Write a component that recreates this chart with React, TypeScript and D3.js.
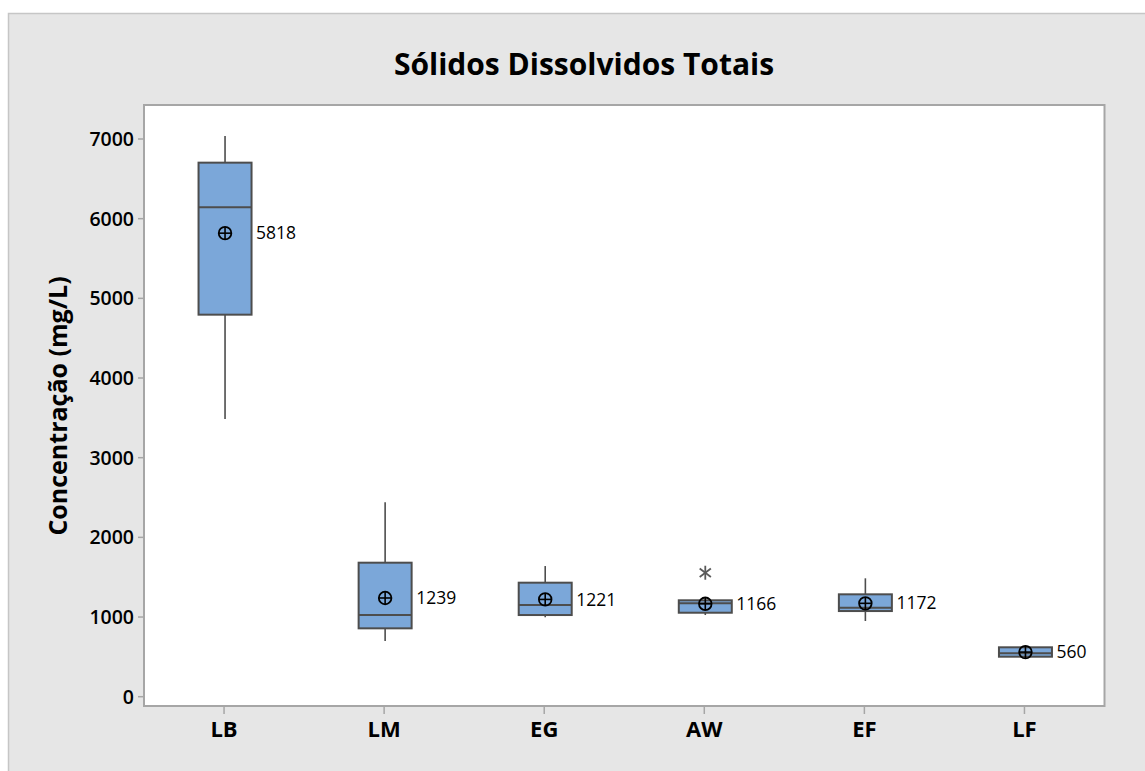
import React from "react";
import * as d3 from "d3";

const categories = ["LB", "LM", "EG", "AW", "EF", "LF"];
const whiskerLow = [3486, 699, 997, 1025, 950, 502];
const q1 = [4795, 858, 1025, 1054, 1075, 502];
const medians = [6143, 1025, 1151, 1172, 1117, 545];
const q3 = [6703, 1682, 1431, 1210, 1285, 620];
const whiskerHigh = [7038, 2440, 1640, 1210, 1486, 620];
const means = [5818, 1239, 1221, 1166, 1172, 560];
const outlierCats = ["AW"];
const outlierValues = [1556];
const yTicks = [0, 1000, 2000, 3000, 4000, 5000, 6000, 7000];
const title = "Sólidos Dissolvidos Totais";
const yTitle = "Concentração (mg/L)";

const W = 1145;
const H = 771;
const frame = { left: 144, top: 105, right: 1104.5, bottom: 706 };
const FONT = "'Open Sans', 'Noto Sans', sans-serif";

export default function App() {
  const x = d3
    .scaleBand<string>()
    .domain(categories)
    .range([frame.left, frame.right])
    .padding(0);
  const y = d3.scaleLinear().domain([0, 7000]).range([696.7, 139]);
  const bw = 53;
  const cx = (c: string) => (x(c) as number) + x.bandwidth() / 2 + 1;
  const stroke = "#4d4d4d";

  return (
    <svg
      width={W}
      height={H}
      style={{ position: "absolute", left: 0, top: 0 }}
      fontFamily={FONT}
    >
      <rect x={0} y={0} width={W} height={H} fill="#ffffff" />
      <rect
        x={8.5}
        y={13.5}
        width={W + 20}
        height={H + 20}
        fill="#e6e6e6"
        stroke="#c6c6c6"
        strokeWidth={1.5}
      />
      <text
        x={584}
        y={75}
        textAnchor="middle"
        fontSize={30}
        fontWeight={700}
        fill="#000"
      >
        {title}
      </text>
      <rect
        x={frame.left}
        y={frame.top}
        width={frame.right - frame.left}
        height={frame.bottom - frame.top}
        fill="#ffffff"
        stroke="#a6a6a6"
        strokeWidth={2}
      />
      {/* y axis ticks */}
      {yTicks.map((t) => (
        <g key={t}>
          <line
            x1={frame.left - 6}
            x2={frame.left}
            y1={y(t)}
            y2={y(t)}
            stroke="#a6a6a6"
            strokeWidth={1.5}
          />
          <text
            x={frame.left - 10}
            y={y(t)}
            dy="0.36em"
            textAnchor="end"
            fontSize={19.5}
            fontWeight={600}
            fill="#000"
          >
            {t}
          </text>
        </g>
      ))}
      <text
        transform={`translate(${67},${406}) rotate(-90)`}
        textAnchor="middle"
        fontSize={25}
        fontWeight={700}
        fill="#000"
      >
        {yTitle}
      </text>
      {/* x axis ticks */}
      {categories.map((c) => (
        <g key={c}>
          <line
            x1={cx(c) - 1}
            x2={cx(c) - 1}
            y1={frame.bottom}
            y2={frame.bottom + 8}
            stroke="#a6a6a6"
            strokeWidth={1.5}
          />
          <text
            x={cx(c) - 1}
            y={737}
            textAnchor="middle"
            fontSize={22}
            fontWeight={700}
            fill="#000"
          >
            {c}
          </text>
        </g>
      ))}
      {/* boxes */}
      {categories.map((c, i) => {
        const xc = cx(c);
        return (
          <g key={c}>
            <line
              x1={xc}
              x2={xc}
              y1={y(whiskerHigh[i])}
              y2={y(q3[i])}
              stroke={stroke}
              strokeWidth={1.6}
            />
            <line
              x1={xc}
              x2={xc}
              y1={y(q1[i])}
              y2={y(whiskerLow[i])}
              stroke={stroke}
              strokeWidth={1.6}
            />
            <rect
              x={xc - bw / 2}
              y={y(q3[i])}
              width={bw}
              height={y(q1[i]) - y(q3[i])}
              fill="#7ba7d9"
              stroke={stroke}
              strokeWidth={2}
            />
            <line
              x1={xc - bw / 2}
              x2={xc + bw / 2}
              y1={y(medians[i])}
              y2={y(medians[i])}
              stroke={stroke}
              strokeWidth={2}
            />
            <circle
              cx={xc}
              cy={y(means[i])}
              r={6.3}
              fill="none"
              stroke="#000"
              strokeWidth={1.8}
            />
            <line
              x1={xc - 6.3}
              x2={xc + 6.3}
              y1={y(means[i])}
              y2={y(means[i])}
              stroke="#000"
              strokeWidth={1.6}
            />
            <line
              x1={xc}
              x2={xc}
              y1={y(means[i]) - 6.3}
              y2={y(means[i]) + 6.3}
              stroke="#000"
              strokeWidth={1.6}
            />
            <text
              x={xc + bw / 2 + 4.5}
              y={y(means[i])}
              dy="0.35em"
              fontSize={17.5}
              fill="#000"
            >
              {means[i]}
            </text>
          </g>
        );
      })}
      {/* outliers */}
      {outlierCats.map((c, i) => {
        const xc = cx(c);
        const yc = y(outlierValues[i]);
        const r = 7;
        return (
          <g key={"o" + i} stroke="#5a5a5a" strokeWidth={1.8}>
            <line x1={xc} x2={xc} y1={yc - r} y2={yc + r} />
            <line
              x1={xc - r * 0.8}
              x2={xc + r * 0.8}
              y1={yc - r * 0.6}
              y2={yc + r * 0.6}
            />
            <line
              x1={xc - r * 0.8}
              x2={xc + r * 0.8}
              y1={yc + r * 0.6}
              y2={yc - r * 0.6}
            />
          </g>
        );
      })}
    </svg>
  );
}
